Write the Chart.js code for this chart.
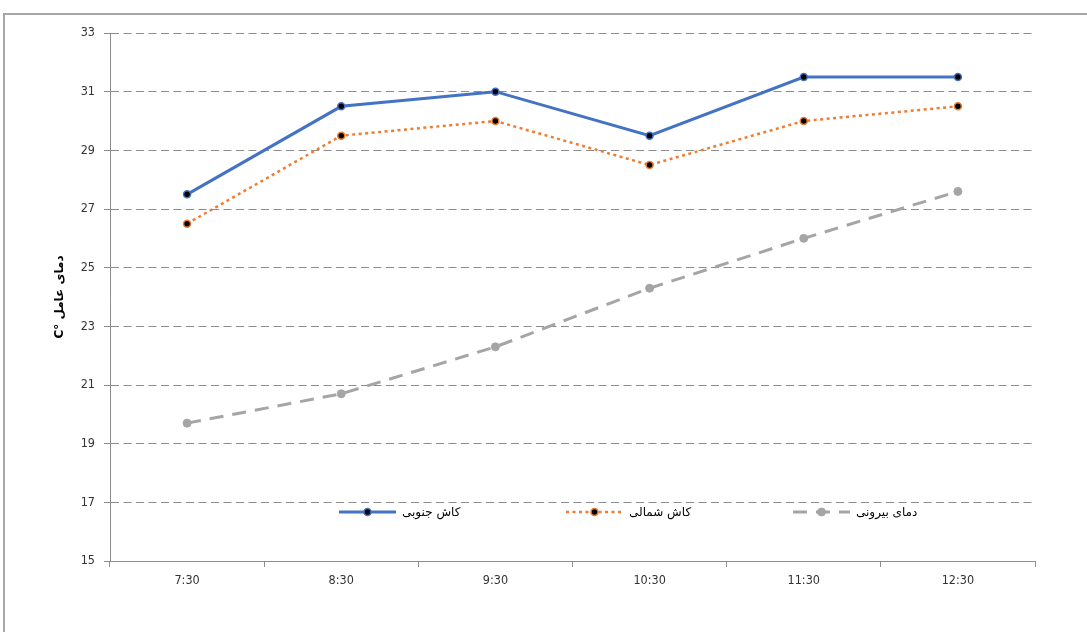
<!DOCTYPE html>
<html>
<head>
<meta charset="utf-8">
<script src="https://cdn.jsdelivr.net/npm/chart.js@4.4.1/dist/chart.umd.min.js"></script>
<style>
  html, body { margin: 0; padding: 0; background: #fff; overflow: hidden; }
  #frame { position: absolute; left: 3px; top: 13px; width: 1100px; height: 640px;
           border-left: 2px solid #a6a6a6; border-top: 2px solid #a6a6a6; box-sizing: border-box; }
  #wrap { position: absolute; left: 0; top: 0; width: 1087px; height: 632px; }
</style>
</head>
<body>
<div id="frame"></div>
<div id="wrap"><canvas id="c" width="1087" height="632"></canvas></div>
<script>
// Time of day (hourly readings)
const times = ['7:30', '8:30', '9:30', '10:30', '11:30', '12:30'];

// Temperatures, °C
const southBed = [27.5, 30.5, 31, 29.5, 31.5, 31.5];
const northBed = [26.5, 29.5, 30, 28.5, 30, 30.5];
const outside  = [19.7, 20.7, 22.3, 24.3, 26.0, 27.6];

const seriesNames = ['کاش جنوبی', 'کاش شمالی', 'دمای بیرونی'];
const yTicks = [15, 17, 19, 21, 23, 25, 27, 29, 31, 33];
const yTitle = 'C° دمای عامل';

const tickFont = { family: "'DejaVu Sans Condensed', 'Liberation Sans Narrow', sans-serif", size: 12.5 };
const faFont = "'DejaVu Sans', sans-serif";

// Legend drawn inside the plot, near its bottom
const innerLegend = {
  id: 'innerLegend',
  afterDatasetsDraw(chart, args, opts) {
    const ctx = chart.ctx;
    const area = chart.chartArea;
    const y = area.bottom - opts.bottomOffset;
    chart.data.datasets.forEach((ds, i) => {
      const x0 = opts.startX + i * opts.step;
      const x1 = x0 + opts.sampleWidth;
      ctx.save();
      ctx.strokeStyle = ds.borderColor;
      ctx.lineWidth = ds.borderWidth;
      ctx.setLineDash(ds.borderDash || []);
      ctx.lineCap = 'butt';
      ctx.beginPath();
      ctx.moveTo(x0, y);
      ctx.lineTo(x1, y);
      ctx.stroke();
      ctx.setLineDash([]);
      ctx.beginPath();
      ctx.arc((x0 + x1) / 2, y, ds.pointRadius, 0, Math.PI * 2);
      ctx.fillStyle = ds.pointBackgroundColor;
      ctx.fill();
      ctx.lineWidth = ds.pointBorderWidth;
      ctx.strokeStyle = ds.pointBorderColor;
      ctx.stroke();
      ctx.fillStyle = '#000';
      ctx.font = '12px ' + faFont;
      ctx.textBaseline = 'middle';
      ctx.textAlign = 'left';
      ctx.fillText(ds.label, x1 + opts.gap, y + 1);
      ctx.restore();
    });
  }
};

new Chart(document.getElementById('c'), {
  type: 'line',
  data: {
    labels: times,
    datasets: [
      {
        label: seriesNames[0], data: southBed,
        borderColor: '#4472C4', borderWidth: 3, borderDash: [],
        pointRadius: 3.5, pointBackgroundColor: '#000', pointBorderColor: '#4472C4', pointBorderWidth: 1.5,
        tension: 0
      },
      {
        label: seriesNames[1], data: northBed,
        borderColor: '#ED7D31', borderWidth: 2.5, borderDash: [3, 3.5],
        pointRadius: 3.5, pointBackgroundColor: '#000', pointBorderColor: '#ED7D31', pointBorderWidth: 1.5,
        tension: 0
      },
      {
        label: seriesNames[2], data: outside,
        borderColor: '#A5A5A5', borderWidth: 3, borderDash: [14, 9],
        pointRadius: 4, pointBackgroundColor: '#A5A5A5', pointBorderColor: '#A5A5A5', pointBorderWidth: 1,
        tension: 0
      }
    ]
  },
  options: {
    responsive: false,
    animation: false,
    devicePixelRatio: 1,
    layout: { padding: { left: 0, right: 52, top: 33, bottom: 0 } },
    plugins: {
      legend: { display: false },
      tooltip: { enabled: false },
      innerLegend: { startX: 339, step: 227, sampleWidth: 57, gap: 6, bottomOffset: 49 }
    },
    scales: {
      x: {
        offset: true,
        grid: {
          offset: true, drawOnChartArea: false, drawTicks: true,
          tickLength: 6, tickColor: '#8c8c8c'
        },
        border: { display: true, color: '#8c8c8c', width: 1 },
        ticks: { font: tickFont, color: '#333', padding: 6, maxRotation: 0 },
        afterFit(scale) { scale.height = 71; }
      },
      y: {
        min: 15, max: 33,
        afterBuildTicks(scale) { scale.ticks = yTicks.map(v => ({ value: v })); },
        grid: {
          color: '#8c8c8c', lineWidth: 1, drawTicks: true, tickLength: 6,
          tickColor: '#8c8c8c', tickBorderDash: []
        },
        border: { display: true, color: '#8c8c8c', width: 1, dash: [8, 4.5] },
        ticks: { font: tickFont, color: '#333', padding: 9 },
        title: {
          display: true, text: yTitle,
          font: { family: faFont, size: 12, weight: 'bold' }, color: '#000',
          padding: { top: 53, bottom: 0 }
        },
        afterFit(scale) { scale.width = 110; }
      }
    }
  },
  plugins: [innerLegend]
});
</script>
</body>
</html>
